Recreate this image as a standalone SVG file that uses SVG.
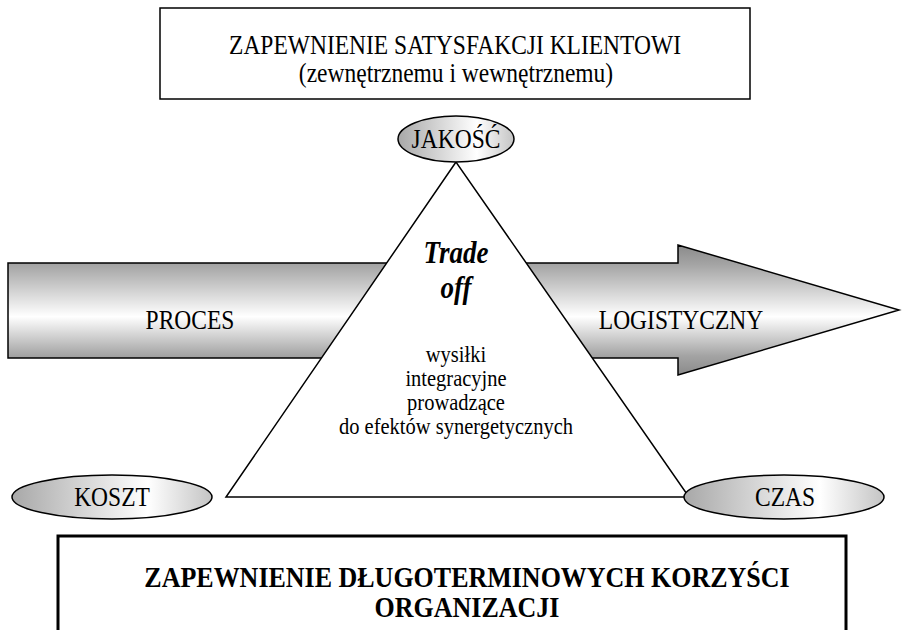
<svg xmlns="http://www.w3.org/2000/svg" width="902" height="630" viewBox="0 0 902 630">
<defs>
<linearGradient id="gArrow" x1="0" y1="0" x2="0" y2="1">
<stop offset="0" stop-color="#8a8a8a"/>
<stop offset="0.15" stop-color="#a4a4a4"/>
<stop offset="0.55" stop-color="#ffffff"/>
<stop offset="0.85" stop-color="#a4a4a4"/>
<stop offset="1" stop-color="#8a8a8a"/>
</linearGradient>
<linearGradient id="gEll" x1="0" y1="0" x2="1" y2="0">
<stop offset="0" stop-color="#a8a8a8"/>
<stop offset="0.68" stop-color="#ffffff"/>
<stop offset="1" stop-color="#c4c4c4"/>
</linearGradient>
<style>
text{font-family:"Liberation Serif","Times New Roman",serif;font-size:23.5px;fill:#000;text-anchor:middle}
.s{font-size:20.5px}
.b{font-weight:bold;font-size:26px}
.bi{font-weight:bold;font-style:italic;font-size:27px}
.ell{fill:url(#gEll);stroke:#000;stroke-width:1.5}
</style>
</defs>
<rect width="902" height="630" fill="#fff"/>
<g id="arrow">
<polygon points="8,263 678,263 678,245 899,310 678,375 678,358 8,358" fill="url(#gArrow)" stroke="#000" stroke-width="1.5"/>
<text transform="translate(190,329) scale(1,1.15)">PROCES</text>
<text transform="translate(681,329) scale(1,1.15)">LOGISTYCZNY</text>
</g>
<g id="top">
<rect x="160" y="8" width="590" height="91" fill="#fff" stroke="#000" stroke-width="1.5"/>
<text transform="translate(455,54) scale(1,1.15)">ZAPEWNIENIE SATYSFAKCJI KLIENTOWI</text>
<text transform="translate(456,82) scale(1,1.15)">(zewnętrznemu i wewnętrznemu)</text>
</g>
<g id="triangle">
<polygon points="456,162 226,497 689,497" fill="#fff" stroke="#000" stroke-width="1.5"/>
<text class="bi" transform="translate(456,263) scale(1,1.15)">Trade</text>
<text class="bi" transform="translate(456,298) scale(1,1.15)">off</text>
<text class="s" transform="translate(456,362) scale(1,1.15)">wysiłki</text>
<text class="s" transform="translate(456,386) scale(1,1.15)">integracyjne</text>
<text class="s" transform="translate(456,410) scale(1,1.15)">prowadzące</text>
<text class="s" transform="translate(456,434) scale(1,1.15)">do efektów synergetycznych</text>
</g>
<g id="jakosc">
<ellipse class="ell" cx="456" cy="139" rx="58" ry="23"/>
<text transform="translate(456,148) scale(1,1.15)">JAKOŚĆ</text>
</g>
<g id="koszt">
<ellipse class="ell" cx="112" cy="497" rx="100" ry="22"/>
<text transform="translate(112,506) scale(1,1.15)">KOSZT</text>
</g>
<g id="czas">
<ellipse class="ell" cx="784" cy="497" rx="100" ry="22"/>
<text transform="translate(785,506) scale(1,1.15)">CZAS</text>
</g>
<g id="bottom">
<rect x="58" y="536" width="788" height="110" fill="#fff" stroke="#000" stroke-width="3"/>
<text class="b" transform="translate(467,587) scale(1,1.15)">ZAPEWNIENIE DŁUGOTERMINOWYCH KORZYŚCI</text>
<text class="b" transform="translate(467,617) scale(1,1.15)">ORGANIZACJI</text>
</g>
</svg>
